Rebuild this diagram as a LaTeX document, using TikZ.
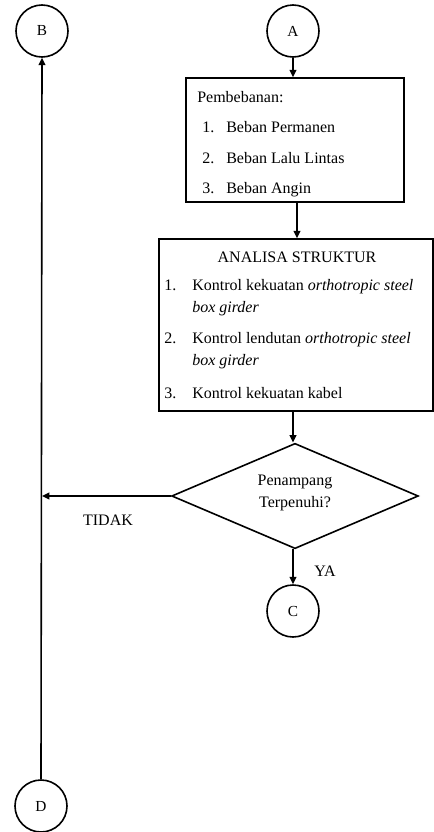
\documentclass[tikz,border=0pt]{standalone}
\usepackage{fontspec}
\setmainfont{Liberation Serif}
\usetikzlibrary{shapes.geometric,arrows.meta}

\begin{document}
\begin{tikzpicture}[x=0.75pt,y=-0.75pt,
    every node/.style={font=\fontsize{12}{14}\selectfont},
    konektor/.style={draw,circle,line width=1.2pt,minimum size=39pt,inner sep=0pt,font=\fontsize{11.5}{13}\selectfont},
    kotak/.style={draw,rectangle,line width=1.2pt,inner sep=0pt},
    teks/.style={anchor=west,inner sep=0pt},
    panah/.style={line width=1.2pt,-{Triangle[length=5.5pt,width=5pt]}}]
    \useasboundingbox (0,0) rectangle (434,832);

    % Connectors
    \node[konektor] (B) at (42,31) {B};
    \node[konektor] (A) at (293,31) {A};
    \node[konektor] (C) at (293,611) {C};
    \node[konektor] (D) at (41,806) {D};

    % Pembebanan
    \node[kotak,minimum width=163.5pt,minimum height=93pt] (beban) at (295,140) {};
    \node[teks] (judul1) at (197,97) {Pembebanan:};
    \node[teks] (b1) at (202,127) {\makebox[18pt][l]{1.}Beban Permanen};
    \node[teks] (b2) at (202,158) {\makebox[18pt][l]{2.}Beban Lalu Lintas};
    \node[teks] (b3) at (202,190) {\makebox[18pt][l]{3.}Beban Angin};

    % Analisa struktur
    \node[kotak,minimum width=205.5pt,minimum height=129pt] (analisa) at (296,325) {};
    \node (judul2) at (297,257) {ANALISA STRUKTUR};
    \node[teks] (a1) at (164,287) {\makebox[21pt][l]{1.}Kontrol kekuatan \textit{orthotropic steel}};
    \node[teks] (a1b) at (192,309) {\textit{box girder}};
    \node[teks] (a2) at (164,340) {\makebox[21pt][l]{2.}Kontrol lendutan \textit{orthotropic steel}};
    \node[teks] (a2b) at (192,362) {\textit{box girder}};
    \node[teks] (a3) at (164,393) {\makebox[21pt][l]{3.}Kontrol kekuatan kabel};

    % Decision
    \node[draw,diamond,line width=1.2pt,minimum width=185pt,minimum height=79pt,inner sep=0pt] (cek) at (295,496) {};
    \node[align=center,font=\fontsize{12}{16.5}\selectfont] (tanya) at (295,493) {Penampang\\Terpenuhi?};
    \node (tidak) at (108,520) {TIDAK};
    \node (ya) at (325,571) {YA};

    % Arrows
    \draw[panah] (A.south) -- (A.south |- beban.north);
    \draw[panah] (beban.south -| 297,0) -- (analisa.north -| 297,0);
    \draw[panah] (analisa.south -| 293,0) -- (cek.north -| 293,0);
    \draw[panah] (cek.west) -- (cek.west -| B.south);
    \draw[panah] (cek.south -| C.north) -- (C.north);
    \draw[panah] (D.north) -- (B.south);
\end{tikzpicture}
\end{document}
